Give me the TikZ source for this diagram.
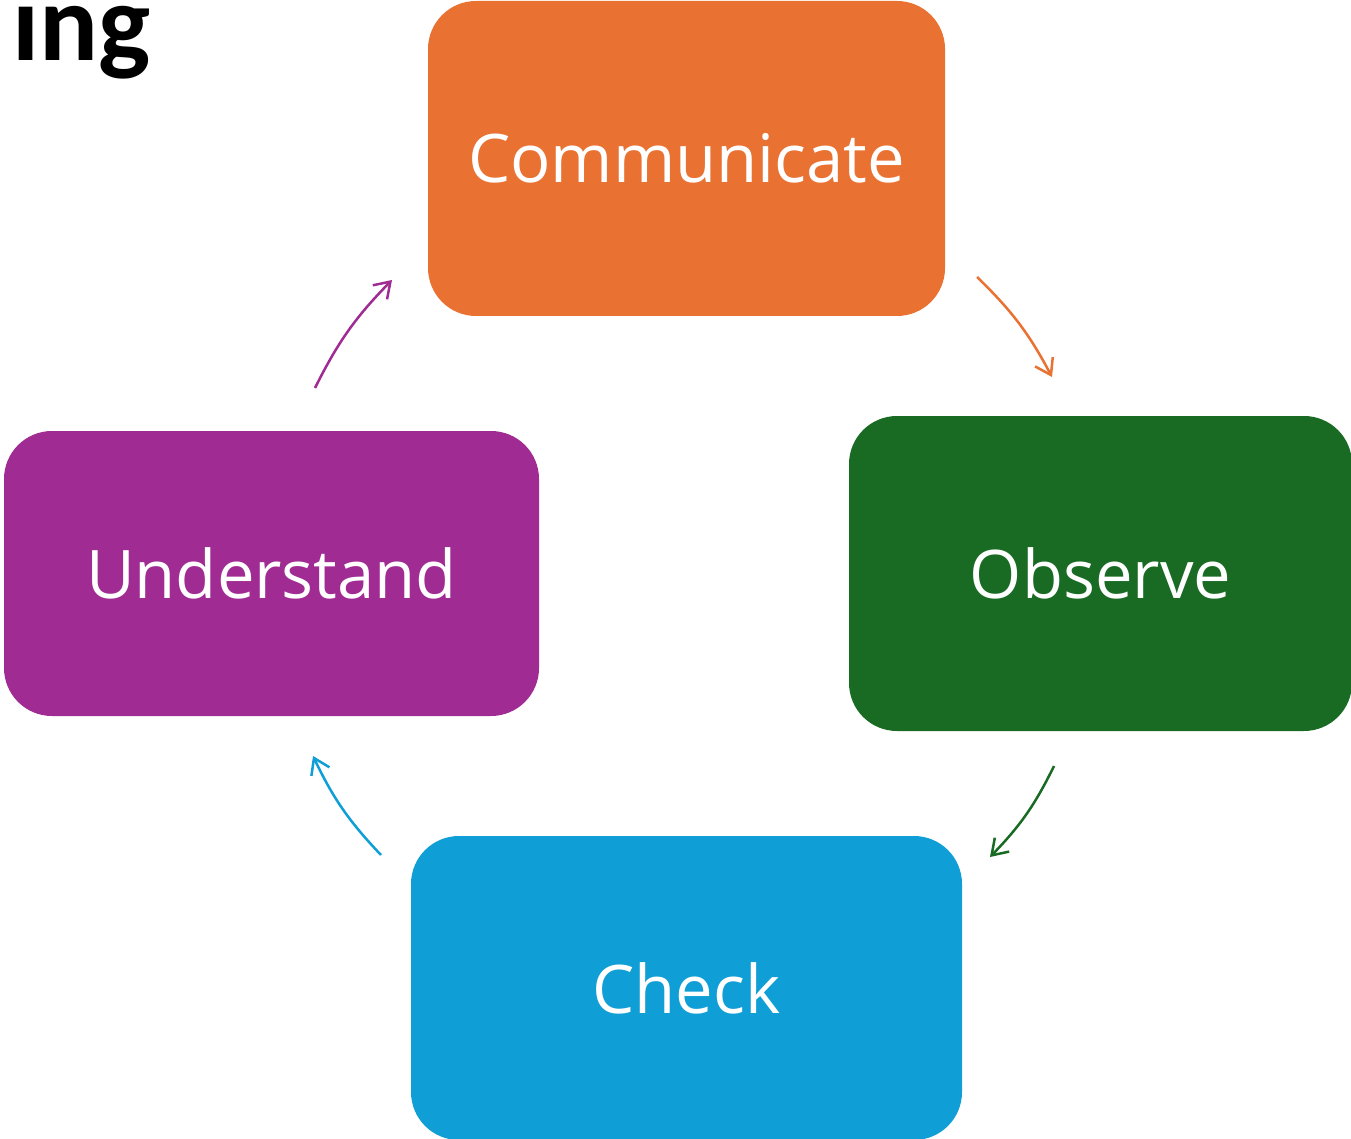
\documentclass[tikz,border=0pt]{standalone}
\usepackage{fontspec}
\setmainfont{Open Sans}
\newfontfamily\titlefont{Carlito}
\usepackage{tikz}
\usetikzlibrary{arrows.meta}

\definecolor{commorange}{HTML}{E97132}
\definecolor{obsgreen}{HTML}{196B24}
\definecolor{checkblue}{HTML}{0F9ED5}
\definecolor{undpurple}{HTML}{A02B93}

\begin{document}
\begin{tikzpicture}[x=1pt, y=-1pt,
    stage/.style={rounded corners=48pt, inner sep=0pt, text=white,
        font=\fontsize{67}{80}\selectfont},
    cycle/.style={line width=2.5pt, -{Straight Barb[length=15pt, width=20pt]}}]
                \useasboundingbox (0,0) rectangle (1351,1139);

                \node[font=\titlefont\bfseries\fontsize{110}{120}\selectfont, anchor=base west, inner sep=0pt] (title) at (12,61) {ing};

                \node[stage, fill=commorange, minimum width=517pt, minimum height=315pt] (comm) at (686.5,158.5) {Communicate};
                \node[stage, fill=obsgreen, minimum width=503pt, minimum height=315pt] (obs) at (1100.5,573.5) {Observe};
                \node[stage, fill=checkblue, minimum width=551pt, minimum height=304pt] (chk) at (686.5,988) {Check};
                \node[stage, fill=undpurple, minimum width=535pt, minimum height=285pt] (und) at (271.5,573.5) {Understand};

                % ends of the arrows round the cycle
                \coordinate (co1) at (977,277);
                \coordinate (co2) at (1052,377);
                \coordinate (ob1) at (1054,766);
                \coordinate (ob2) at (990,857);
                \coordinate (ch1) at (381,855);
                \coordinate (ch2) at (313,756);
                \coordinate (un1) at (315,388);
                \coordinate (un2) at (392,280);

                \draw[cycle, commorange] (co1) to[bend left=9] (co2);
                \draw[cycle, obsgreen] (ob1) to[bend left=9] (ob2);
                \draw[cycle, checkblue] (ch1) to[bend left=9] (ch2);
                \draw[cycle, undpurple] (un1) to[bend left=9] (un2);
            \end{tikzpicture}
\end{document}
